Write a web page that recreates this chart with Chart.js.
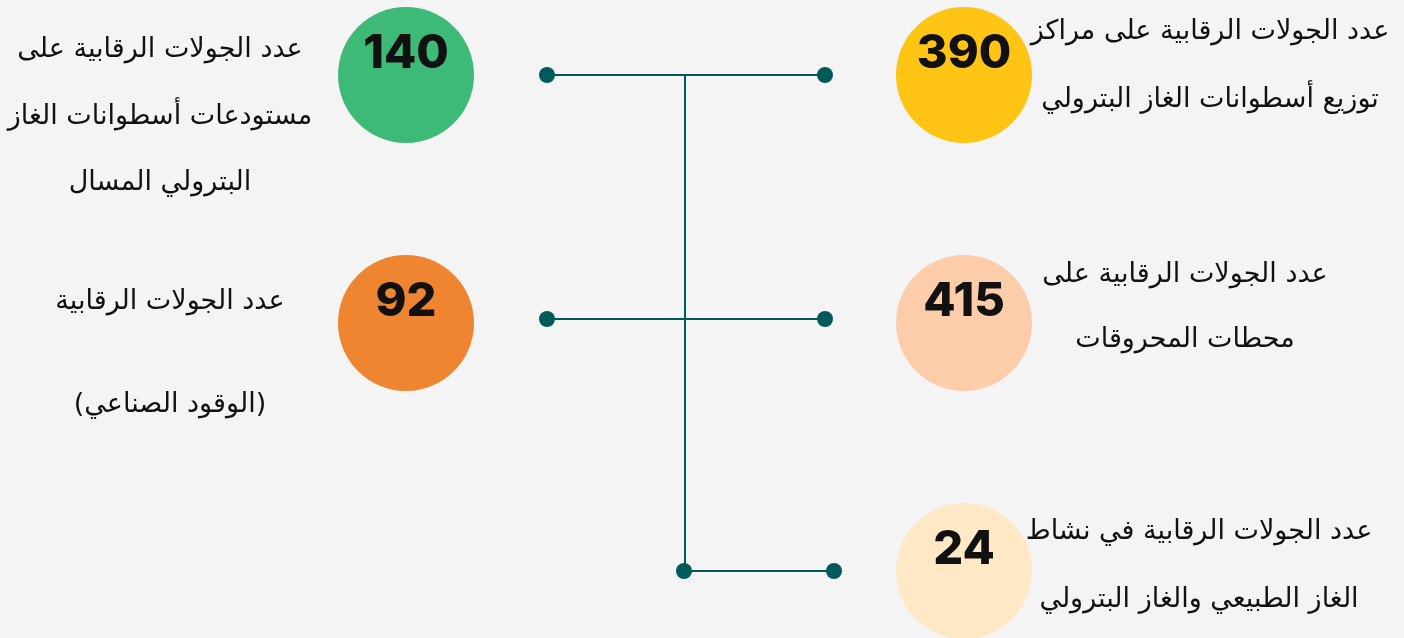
<!DOCTYPE html>
<html lang="ar">
<head>
<meta charset="utf-8">
<script src="https://cdn.jsdelivr.net/npm/chart.js@4.4.1/dist/chart.umd.min.js"></script>
<style>
  html, body { margin: 0; padding: 0; background: #f4f4f4; }
  #wrap { width: 1404px; height: 638px; position: relative; }
</style>
</head>
<body>
<div id="wrap"><canvas id="roundsChart"></canvas></div>
<script>
// inspection rounds, one bubble per activity
const rounds = [
    { value: 140, x: 406, y: 75,  color: '#3dba78', textX: 160,
      lines: ['عدد الجولات الرقابية على', 'مستودعات أسطوانات الغاز', 'البترولي المسال'], lineY: [50, 117, 183] },
    { value: 390, x: 964, y: 75,  color: '#ffc414', textX: 1210,
      lines: ['عدد الجولات الرقابية على مراكز', 'توزيع أسطوانات الغاز البترولي'], lineY: [32, 100] },
    { value: 92,  x: 406, y: 323, color: '#ef8530', textX: 170,
      lines: ['عدد الجولات الرقابية', '(الوقود الصناعي)'], lineY: [302, 405] },
    { value: 415, x: 964, y: 323, color: '#fdcca8', textX: 1185,
      lines: ['عدد الجولات الرقابية على', 'محطات المحروقات'], lineY: [275, 340] },
    { value: 24,  x: 964, y: 571, color: '#ffe8c5', textX: 1199,
      lines: ['عدد الجولات الرقابية في نشاط', 'الغاز الطبيعي والغاز البترولي'], lineY: [532, 600] }
]

// connector tree
const branches = [
    [{x: 547, y: 75},  {x: 825, y: 75}],
    [{x: 547, y: 319}, {x: 825, y: 319}],
    [{x: 684, y: 571}, {x: 834, y: 571}],
    [{x: 685, y: 75},  {x: 685, y: 571}]
]
const lineColor = '#005a5a'

let datasets = []
for (let i = 0; i < branches.length; i++) {
    datasets.push({
        type: 'line',
        data: branches[i],
        borderColor: lineColor,
        borderWidth: 2,
        pointRadius: 0,
        fill: false,
        clip: false,
        order: 3
    })
}
datasets.push({
    type: 'scatter',
    data: branches.slice(0, 3).flat(),
    backgroundColor: lineColor,
    borderWidth: 0,
    pointRadius: 8,
    pointHoverRadius: 8,
    clip: false,
    order: 1
})
datasets.push({
    type: 'scatter',
    data: rounds.map(r => ({x: r.x, y: r.y})),
    backgroundColor: rounds.map(r => r.color),
    borderWidth: 0,
    pointRadius: 68,
    pointHoverRadius: 68,
    clip: false,
    order: 2
})

const labelsPlugin = {
    id: 'roundLabels',
    beforeDraw(chart) {
        const ctx = chart.ctx
        ctx.save()
        ctx.fillStyle = '#f4f4f4'
        ctx.fillRect(0, 0, chart.width, chart.height)
        ctx.restore()
    },
    afterDatasetsDraw(chart) {
        const ctx = chart.ctx
        const sx = chart.scales.x, sy = chart.scales.y
        ctx.save()
        ctx.textAlign = 'center'
        ctx.textBaseline = 'middle'
        rounds.forEach(r => {
            ctx.direction = 'ltr'
            ctx.fillStyle = '#111111'
            ctx.font = '800 47px Inter, "Open Sans", sans-serif'
            ctx.fillText(String(r.value), sx.getPixelForValue(r.x), sy.getPixelForValue(r.y) - 21)

            ctx.direction = 'rtl'
            ctx.font = '27px "DejaVu Sans", sans-serif'
            r.lines.forEach((t, k) => {
                ctx.fillText(t, sx.getPixelForValue(r.textX), sy.getPixelForValue(r.lineY[k]))
            })
        })
        ctx.restore()
    }
}

const config = {
    type: 'scatter',
    data: { datasets: datasets },
    options: {
        responsive: true,
        maintainAspectRatio: false,
        animation: false,
        layout: { padding: 0, autoPadding: false },
        plugins: {
            legend: { display: false },
            tooltip: { enabled: false }
        },
        scales: {
            x: { type: 'linear', min: 0, max: 1404, display: false },
            y: { type: 'linear', min: 0, max: 638, reverse: true, display: false }
        }
    },
    plugins: [labelsPlugin]
};

new Chart(document.getElementById('roundsChart'), config);
</script>
</body>
</html>
